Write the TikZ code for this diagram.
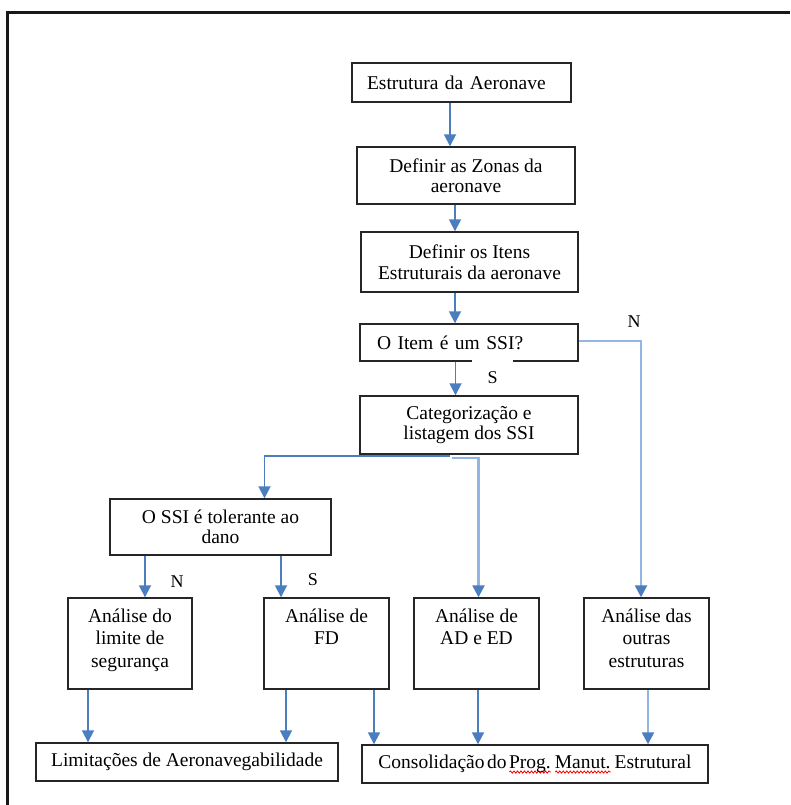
\documentclass[tikz,border=0pt]{standalone}
\usepackage{fontspec}
\setmainfont{Liberation Serif}
\newfontfamily\tightfont[WordSpace=0.5]{Liberation Serif}
\usetikzlibrary{arrows.meta,decorations.pathmorphing}
\definecolor{arrblue}{RGB}{74,126,190}
\definecolor{lightblue}{RGB}{146,181,226}
\newlength\rwlen
\newcommand\redwave[1]{\settowidth\rwlen{#1}\leavevmode\rlap{\raisebox{-4pt}{\tikz[x=1pt,y=1pt,baseline=0pt]\draw[red,line width=0.8pt,decorate,decoration={snake,amplitude=1.1pt,segment length=3.5pt}] (0,0) -- (\rwlen,0);}}#1}
\newcommand\lowstrut{\rule[-11pt]{0pt}{11pt}}
\begin{document}
\begin{tikzpicture}[x=1pt,y=-1pt,
  box/.style={draw=black!85, line width=1.4pt, inner sep=0pt, align=center, font=\fontsize{19.5}{20.5}\selectfont},
  abox/.style={box, minimum width=125pt, minimum height=91pt, font=\fontsize{19.5}{22.5}\selectfont},
  arr/.style={draw=arrblue, line width=1.8pt, -{Triangle[length=12pt,width=12pt]}},
  lightarr/.style={draw=lightblue, line width=2.4pt, -{Triangle[length=12pt,width=12pt,color=arrblue]}},
  lbl/.style={inner sep=0pt, font=\fontsize{18}{20}\selectfont}]
\useasboundingbox (0,0) rectangle (790,805);
\draw[line width=3pt, black!90] (7,805) -- (7,13) -- (790,13);

\node[box, minimum height=39pt, text width=189pt, inner xsep=15pt, align=left] (b1) at (461.5,82.5) {Estrutura da Aeronave};
\node[box, minimum width=218pt, minimum height=57pt] (b2) at (466,175.5) {Definir as Zonas da\\aeronave};
\node[box, minimum width=217pt, minimum height=60pt] (b3) at (469.5,262) {Definir os Itens\\Estruturais da aeronave};
\node[box, minimum height=37pt, text width=184pt, inner xsep=17pt, align=left, font=\fontsize{19.5}{20.5}\tightfont] (b4) at (469,342.5) {O Item é um SSI?};
\node[lbl, fill=white, minimum width=41pt, minimum height=37pt] (ls1) at (492.5,378) {S};
\node[box, minimum width=218pt, minimum height=58pt] (b5) at (469,425) {Categorização e\\listagem dos SSI};
\node[box, minimum width=221pt, minimum height=56pt] (b6) at (220.5,527) {O SSI é tolerante ao\\dano};

\node[abox, minimum width=124pt] (a1) at (130,643.5) {Análise do\\limite de\\segurança\lowstrut};
\node[abox] (a2) at (326.5,643.5) {Análise de\\FD\\\lowstrut};
\node[abox] (a3) at (476.5,643.5) {Análise de\\AD e ED\\\lowstrut};
\node[abox] (a4) at (646.5,643.5) {Análise das\\outras\\estruturas\lowstrut};

\node[box, minimum width=302pt, minimum height=38pt] (lim) at (187,762) {Limitações de Aeronavegabilidade};
\node[box, minimum width=346pt, minimum height=38pt, font=\fontsize{19.5}{20.5}\tightfont] (cons) at (535,764) {Consolidação do \redwave{Prog.} \redwave{Manut.} Estrutural};

\node[lbl] (ln1) at (634,322) {N};
\node[lbl] (ln2) at (177,582) {N};
\node[lbl] (ls2) at (313,580) {S};

\draw[arr] ([xshift=-11.5pt]b1.south) -- ([xshift=-11.5pt]b1.south |- b2.north);
\draw[arr] ([xshift=-11pt]b2.south) -- ([xshift=-11pt]b2.south |- b3.north);
\draw[arr] ([xshift=-14.5pt]b3.south) -- ([xshift=-14.5pt]b3.south |- b4.north);
\draw[arr] ([xshift=-13.5pt]b4.south) -- ([xshift=-13.5pt]b4.south |- b5.north);
\draw[lightarr] ([yshift=1.5pt]b4.east) -| ([xshift=-5.5pt]a4.north);
\draw[arr] ([xshift=-19pt,yshift=-1.5pt]b5.south) -| ([xshift=44pt]b6.north);
\draw[lightarr] ([xshift=-17pt,yshift=-3pt]b5.south) -| ([xshift=2pt]a3.north);
\draw[arr] ([xshift=15pt]a1.north |- b6.south) -- ([xshift=15pt]a1.north);
\draw[arr] ([xshift=-45.5pt]a2.north |- b6.south) -- ([xshift=-45.5pt]a2.north);
\draw[arr] ([xshift=-42pt]a1.south) -- ([xshift=-42pt]a1.south |- lim.north);
\draw[arr] ([xshift=-40.5pt]a2.south) -- ([xshift=-40.5pt]a2.south |- lim.north);
\draw[arr] ([xshift=47.5pt]a2.south) -- ([xshift=47.5pt]a2.south |- cons.north);
\draw[arr] ([xshift=1.5pt]a3.south) -- ([xshift=1.5pt]a3.south |- cons.north);
\draw[lightarr] ([xshift=1.5pt]a4.south) -- ([xshift=1.5pt]a4.south |- cons.north);
\end{tikzpicture}
\end{document}
